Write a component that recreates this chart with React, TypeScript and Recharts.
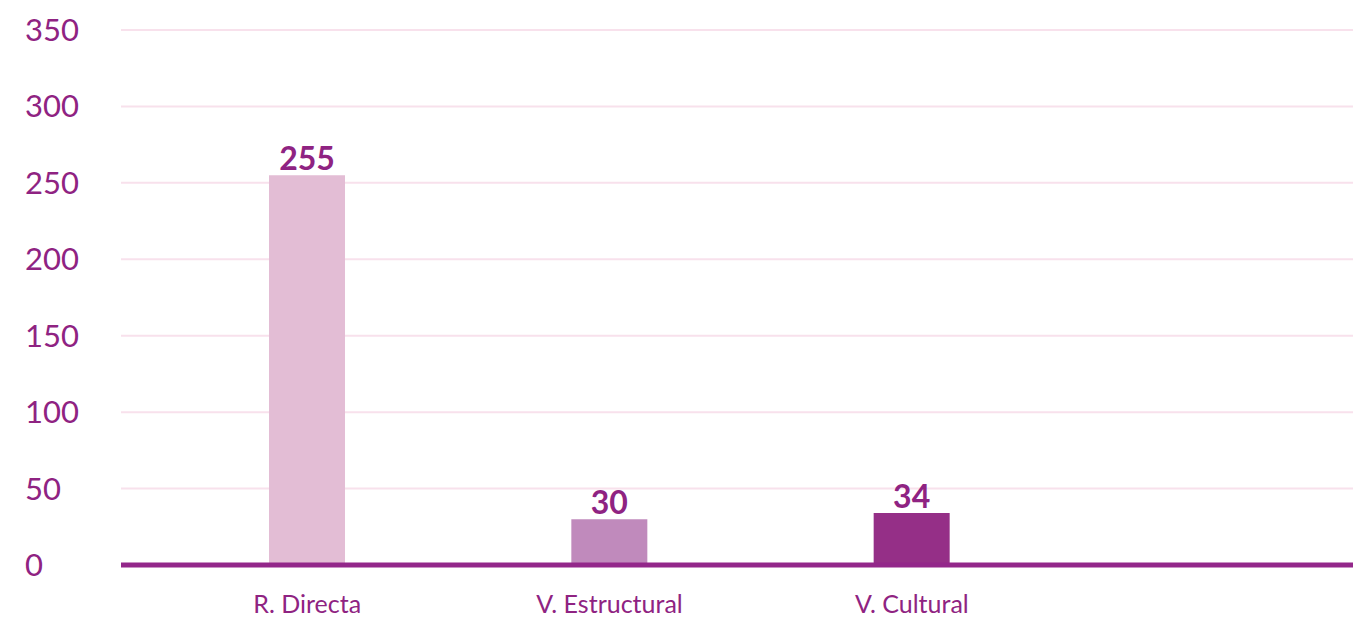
import React from 'react';
import { BarChart, Bar, XAxis, YAxis, CartesianGrid, Cell, LabelList } from 'recharts';

const categories = ['R. Directa', 'V. Estructural', 'V. Cultural'];
const values = [255, 30, 34];
const barColors = ['#e3bdd5', '#c08abc', '#952f87'];
const yTicks = [0, 50, 100, 150, 200, 250, 300, 350];

const data = categories.map((name, i) => ({ name, value: values[i] }));

const purple = '#8f2382';
const font = 'Lato, "Open Sans", sans-serif';

const YTick = (props: any) => {
  const { y, payload } = props;
  return (
    <text x={25} y={y} dy={11} textAnchor="start" fill={purple} fontSize={31} fontFamily={font}>
      {payload.value}
    </text>
  );
};

const XTick = (props: any) => {
  const { x, y, payload } = props;
  return (
    <text x={x} y={y + 40} textAnchor="middle" fill={purple} fontSize={25} fontFamily={font}>
      {payload.value}
    </text>
  );
};

export default function App() {
  return (
    <div style={{ position: 'absolute', left: 0, top: 0, background: '#fff' }}>
      <BarChart
        width={1365}
        height={618}
        data={data}
        margin={{ top: 30, right: 12, left: 0, bottom: 3 }}
      >
        <CartesianGrid vertical={false} stroke="#f8e1ec" strokeWidth={2} />
        <XAxis
          dataKey="name"
          height={50}
          padding={{ left: 35, right: 290 }}
          axisLine={{ stroke: '#93278a', strokeWidth: 5 }}
          tickLine={false}
          tick={<XTick />}
          interval={0}
        />
        <YAxis
          width={121}
          domain={[0, 350]}
          ticks={yTicks}
          axisLine={false}
          tickLine={false}
          tick={<YTick />}
        />
        <Bar dataKey="value" barSize={76} isAnimationActive={false}>
          {data.map((d, i) => (
            <Cell key={d.name} fill={barColors[i]} />
          ))}
          <LabelList
            dataKey="value"
            position="top"
            offset={5}
            fill={purple}
            fontSize={32}
            fontWeight="bold"
            fontFamily={font}
          />
        </Bar>
      </BarChart>
    </div>
  );
}
